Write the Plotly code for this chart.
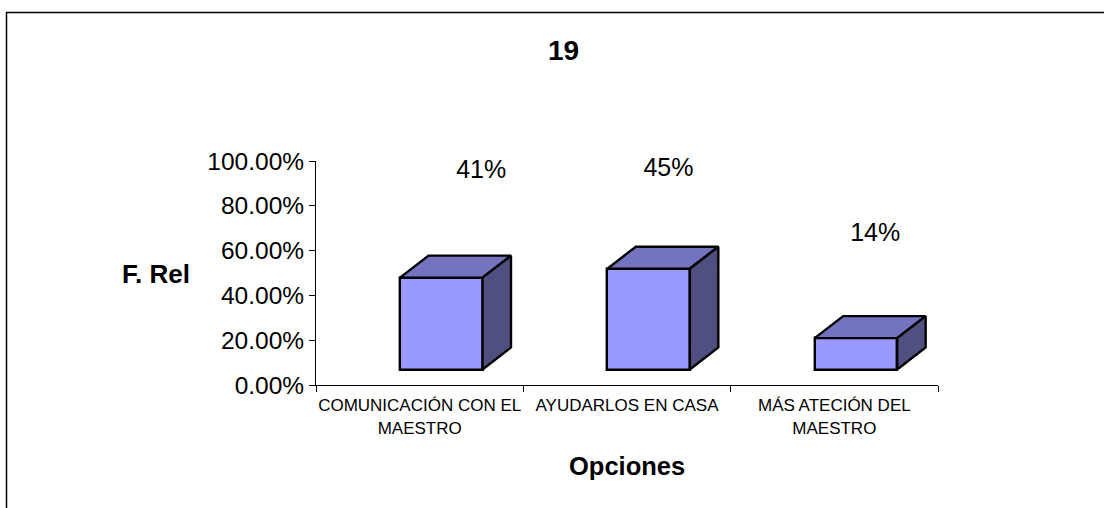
import plotly.graph_objects as go

categories = ["COMUNICACIÓN CON EL<br>MAESTRO", "AYUDARLOS EN CASA", "MÁS ATECIÓN DEL<br>MAESTRO"]
values = [41, 45, 14]
value_labels = ["41%", "45%", "14%"]
label_x = [0.797, 1.70, 2.697]
label_y = [95, 96, 67]
y_ticks = [0, 20, 40, 60, 80, 100]
y_tick_labels = ["0.00%", "20.00%", "40.00%", "60.00%", "80.00%", "100.00%"]

FONT = "Liberation Sans"
W, H = 1104, 508
L, R, T, B = 316, 938, 161, 385
x_unit = (R - L) / 3
y_unit = (B - T) / 100

# Pseudo-3D geometry expressed in axis units
front_offset = 84 / x_unit
bar_w = 82.5 / x_unit
base = 15.5 / y_unit
dx = 28.5 / x_unit
dy = 22 / y_unit

FRONT, TOP, SIDE = "#9999FF", "#7373BF", "#4F4F80"
line = dict(color="black", width=2.4)

fig = go.Figure()
xs = [i + front_offset + bar_w / 2 for i in range(len(values))]
fig.add_trace(go.Bar(x=xs, y=values, base=base, width=bar_w,
                     marker=dict(color=FRONT, line=line), showlegend=False, hoverinfo="skip"))
for x, v in zip(xs, values):
    x0, x1 = x - bar_w / 2, x + bar_w / 2
    y0, y1 = base, base + v
    fig.add_trace(go.Scatter(x=[x0, x0 + dx, x1 + dx, x1, x0], y=[y1, y1 + dy, y1 + dy, y1, y1],
                             mode="lines", fill="toself", fillcolor=TOP, line=line,
                             showlegend=False, hoverinfo="skip"))
    fig.add_trace(go.Scatter(x=[x1, x1 + dx, x1 + dx, x1, x1], y=[y0, y0 + dy, y1 + dy, y1, y0],
                             mode="lines", fill="toself", fillcolor=SIDE, line=line,
                             showlegend=False, hoverinfo="skip"))

fig.add_trace(go.Scatter(x=label_x, y=label_y, mode="text", text=value_labels,
                         textposition="middle center", textfont=dict(family=FONT, size=25, color="black"),
                         showlegend=False, hoverinfo="skip", cliponaxis=False))

fig.update_layout(
    width=W, height=H, autosize=False,
    margin=dict(l=L, r=W - R, t=T, b=H - B, pad=0),
    paper_bgcolor="white", plot_bgcolor="white",
    font=dict(family=FONT, color="black"),
    bargap=0,
    xaxis=dict(range=[0, 3], tickmode="array", tickvals=[0.5, 1.5, 2.5], ticktext=categories,
               ticks="", showgrid=False, zeroline=False, showline=True, linecolor="black", linewidth=1,
               tickfont=dict(family=FONT, size=17), ticklabelstandoff=5,
               minor=dict(tickmode="array", tickvals=[0, 1, 2, 3], ticks="outside", ticklen=6,
                          tickcolor="black", tickwidth=1, showgrid=False)),
    yaxis=dict(range=[0, 100], tickmode="array", tickvals=y_ticks, ticktext=y_tick_labels,
               ticks="outside", ticklen=6, tickcolor="black", tickwidth=1,
               showgrid=False, zeroline=False, showline=True, linecolor="black", linewidth=1,
               tickfont=dict(family=FONT, size=24.5)),
    annotations=[
        dict(text="<b>19</b>", xref="paper", yref="paper", x=(563 - L) / (R - L), y=(B - 50) / (B - T),
             showarrow=False, font=dict(family=FONT, size=28), xanchor="center", yanchor="middle"),
        dict(text="<b>F. Rel</b>", xref="paper", yref="paper", x=(156 - L) / (R - L), y=(B - 274) / (B - T),
             showarrow=False, font=dict(family=FONT, size=26), xanchor="center", yanchor="middle"),
        dict(text="<b>Opciones</b>", xref="paper", yref="paper", x=(627 - L) / (R - L), y=(B - 466) / (B - T),
             showarrow=False, font=dict(family=FONT, size=25.5), xanchor="center", yanchor="middle"),
    ],
    shapes=[
        dict(type="line", xref="paper", yref="paper", x0=(6 - L) / (R - L), x1=(W - L) / (R - L),
             y0=(B - 12.5) / (B - T), y1=(B - 12.5) / (B - T), line=dict(color="black", width=1.5)),
        dict(type="line", xref="paper", yref="paper", x0=(6.5 - L) / (R - L), x1=(6.5 - L) / (R - L),
             y0=(B - 12) / (B - T), y1=(B - H) / (B - T), line=dict(color="black", width=1.5)),
    ],
)
fig.write_html("out.html", config=dict(displayModeBar=False),
               post_script="document.body.style.margin='0';document.documentElement.style.overflow='hidden';")
